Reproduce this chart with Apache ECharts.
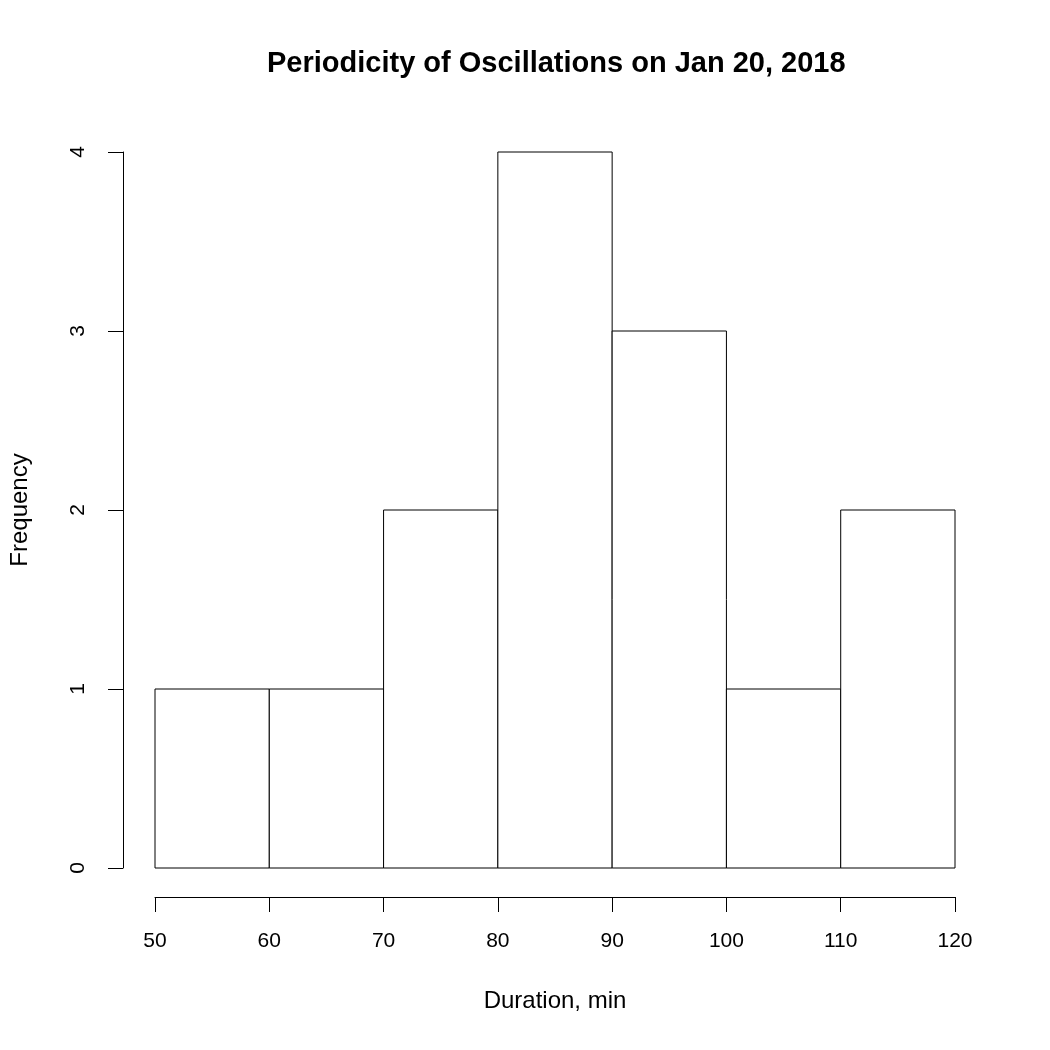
<!DOCTYPE html>
<html>
<head>
<meta charset="utf-8">
<script src="https://cdn.jsdelivr.net/npm/echarts@6/dist/echarts.min.js"></script>
<style>
  html, body { margin: 0; padding: 0; background: #fff; }
  #dom { width: 1050px; height: 1050px; }
</style>
</head>
<body>
<div id="dom"></div>
<script>
// bins of the histogram (minutes) and how many fall in each
var binStart = [50, 60, 70, 80, 90, 100, 110];
var binEnd = [60, 70, 80, 90, 100, 110, 120];
var counts = [1, 1, 2, 4, 3, 1, 2];
var xTicks = [50, 60, 70, 80, 90, 100, 110, 120];
var yTicks = [0, 1, 2, 3, 4];

var font = '"Liberation Sans", Arial, Helvetica, sans-serif';

var myChart = echarts.init(document.getElementById('dom'));

var seriesData = [];
for (var i = 0; i < counts.length; i++) {
  seriesData.push([binStart[i], binEnd[i], counts[i]]);
}

var option = {
  backgroundColor: '#fff',
  animation: false,
  // title sits centred over the plot region, not the whole page
  title: {
    text: 'Periodicity of Oscillations on Jan 20, 2018',
    left: 262,
    top: 44,
    textStyle: {
      fontFamily: font,
      fontSize: 29,
      fontWeight: 'bold',
      color: '#000'
    }
  },
  grid: {
    left: 155,
    right: 95,
    top: 152,
    bottom: 182
  },
  xAxis: {
    type: 'value',
    min: xTicks[0],
    max: xTicks[xTicks.length - 1],
    interval: 10,
    offset: 29,
    name: 'Duration, min',
    nameLocation: 'middle',
    nameGap: 92,
    nameTextStyle: { fontFamily: font, fontSize: 24, color: '#000' },
    axisLine: { show: true, onZero: false, lineStyle: { color: '#000', width: 1 } },
    axisTick: { show: true, length: 15, lineStyle: { color: '#000' } },
    axisLabel: { margin: 34, fontFamily: font, fontSize: 21, color: '#000', showMinLabel: true, showMaxLabel: true },
    splitLine: { show: false }
  },
  yAxis: {
    type: 'value',
    min: yTicks[0],
    max: yTicks[yTicks.length - 1],
    interval: 1,
    offset: 32,
    name: 'Frequency',
    nameLocation: 'middle',
    nameGap: 91,
    nameRotate: 90,
    nameTextStyle: { fontFamily: font, fontSize: 24, color: '#000' },
    axisLine: { show: true, onZero: false, lineStyle: { color: '#000', width: 1 } },
    axisTick: { show: true, length: 15, lineStyle: { color: '#000' } },
    axisLabel: { rotate: 90, margin: 34, fontFamily: font, fontSize: 21, color: '#000' },
    splitLine: { show: false }
  },
  series: [{
    type: 'custom',
    data: seriesData,
    encode: { x: [0, 1], y: 2 },
    renderItem: function (params, api) {
      var p0 = api.coord([api.value(0), api.value(2)]);
      var p1 = api.coord([api.value(1), 0]);
      return {
        type: 'rect',
        shape: { x: p0[0], y: p0[1], width: p1[0] - p0[0], height: p1[1] - p0[1] },
        style: { fill: '#fff', stroke: '#000', lineWidth: 1 }
      };
    }
  }]
};
myChart.setOption(option);
</script>
</body>
</html>
